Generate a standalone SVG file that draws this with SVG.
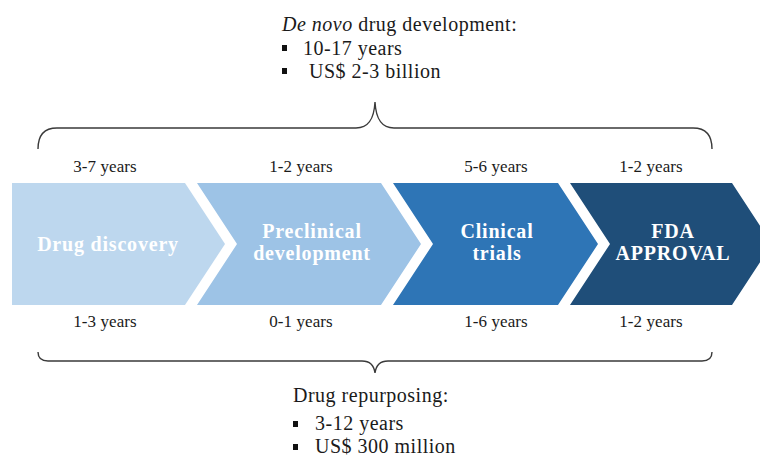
<svg xmlns="http://www.w3.org/2000/svg" width="760" height="457" viewBox="0 0 760 457">
  <style>
    text { font-family: "Liberation Serif", "DejaVu Serif", serif; fill: #1a1a1a; }
    .head { font-size: 20px; letter-spacing: 0.5px; }
    .yr { font-size: 17px; text-anchor: middle; letter-spacing: 0.1px; }
    .lbl { font-size: 20px; font-weight: bold; fill: #ffffff; text-anchor: middle; letter-spacing: 0.8px; }
    .brace { fill: none; stroke: #3a3a3a; stroke-width: 1.4; }
    .bullet { fill: #111111; }
  </style>
  <rect width="760" height="457" fill="#ffffff"/>

  <!-- top summary -->
  <g id="denovo">
    <text class="head" x="282" y="31"><tspan font-style="italic">De novo</tspan> drug development:</text>
    <rect class="bullet" x="282" y="45" width="5" height="6"/>
    <text class="head" x="303" y="55">10-17 years</text>
    <rect class="bullet" x="282" y="68" width="5" height="6"/>
    <text class="head" x="309" y="78">US$ 2-3 billion</text>
  </g>

  <!-- braces -->
  <g id="connectors">
    <path class="brace" d="M38,149 C38,136 44,128 57,128 H356 C368,128 374,120 375,102 C376,120 382,128 394,128 H693 C706,128 712,136 712,149"/>
    <path class="brace" d="M38,352 C38,358 41,361 48,361 H362 C369,361 374,365 375,373 C376,365 381,361 388,361 H702 C709,361 712,358 712,352"/>
  </g>

  <!-- durations, de novo -->
  <g id="durations-top">
    <text class="yr" x="105" y="172">3-7 years</text>
    <text class="yr" x="301" y="172">1-2 years</text>
    <text class="yr" x="496" y="172">5-6 years</text>
    <text class="yr" x="651" y="172">1-2 years</text>
  </g>

  <!-- stages -->
  <g id="stage-discovery">
    <path d="M12,183 H185 L225,244 L185,305 H12 Z" fill="#bdd7ee"/>
    <text class="lbl" x="108" y="251">Drug discovery</text>
  </g>
  <g id="stage-preclinical">
    <path d="M197,183 H381 L421,244 L381,305 H197 L237,244 Z" fill="#9dc3e6"/>
    <text class="lbl" x="312" y="238">Preclinical</text>
    <text class="lbl" x="312" y="260">development</text>
  </g>
  <g id="stage-clinical">
    <path d="M393,183 H558 L598,244 L558,305 H393 L433,244 Z" fill="#2e75b6"/>
    <text class="lbl" x="497" y="238">Clinical</text>
    <text class="lbl" x="497" y="260">trials</text>
  </g>
  <g id="stage-fda">
    <path d="M570,183 H732 L772,244 L732,305 H570 L610,244 Z" fill="#1f4e79"/>
    <text class="lbl" x="673" y="238">FDA</text>
    <text class="lbl" x="673" y="260">APPROVAL</text>
  </g>

  <!-- durations, repurposing -->
  <g id="durations-bottom">
    <text class="yr" x="105" y="327">1-3 years</text>
    <text class="yr" x="301" y="327">0-1 years</text>
    <text class="yr" x="496" y="327">1-6 years</text>
    <text class="yr" x="651" y="327">1-2 years</text>
  </g>

  <!-- bottom summary -->
  <g id="repurposing">
    <text class="head" x="293" y="402">Drug repurposing:</text>
    <rect class="bullet" x="293" y="421" width="5" height="6"/>
    <text class="head" x="315" y="430">3-12 years</text>
    <rect class="bullet" x="293" y="444" width="5" height="6"/>
    <text class="head" x="315" y="453">US$ 300 million</text>
  </g>
</svg>
